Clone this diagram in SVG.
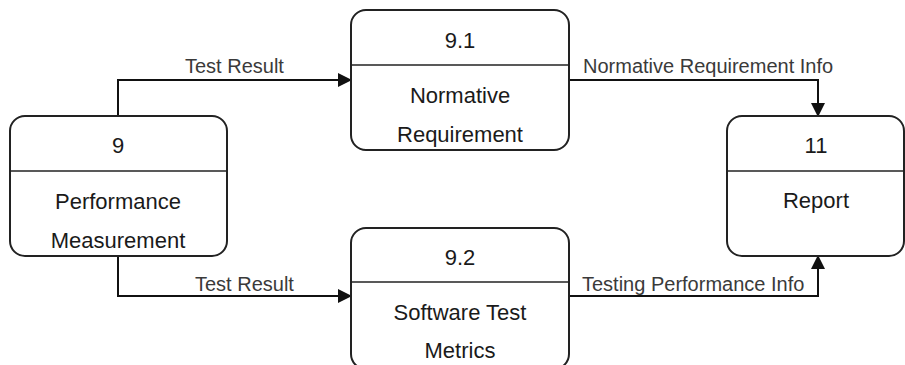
<svg xmlns="http://www.w3.org/2000/svg" width="905" height="365" viewBox="0 0 905 365">
<style>
.box{fill:#fff;stroke:#222;stroke-width:2}
.div{stroke:#222;stroke-width:1.5}
.nt{font-family:"Liberation Sans",Arial,sans-serif;font-size:22px;fill:#1a1a1a;text-anchor:middle}
.lt{font-family:"Liberation Sans",Arial,sans-serif;font-size:20px;fill:#3a3a3a}
.cn{fill:none;stroke:#111;stroke-width:2}
</style>
<defs>
<marker id="ah" markerWidth="14" markerHeight="14" refX="13" refY="7" orient="auto" markerUnits="userSpaceOnUse">
<path d="M0,0 L14,7 L0,14 Z" fill="#111"/>
</marker>
</defs>
<rect width="905" height="365" fill="#fff"/>
<g id="connectors">
<path class="cn" d="M118,116 V80 H351" marker-end="url(#ah)"/>
<path class="cn" d="M118,256 V296 H351" marker-end="url(#ah)"/>
<path class="cn" d="M569,80 H818 V116" marker-end="url(#ah)"/>
<path class="cn" d="M569,296 H818 V256" marker-end="url(#ah)"/>
<text class="lt" x="185" y="73">Test Result</text>
<text class="lt" x="195" y="291">Test Result</text>
<text class="lt" x="583" y="73">Normative Requirement Info</text>
<text class="lt" x="582" y="291">Testing Performance Info</text>
</g>
<g id="n9">
<rect class="box" x="10" y="116" width="217" height="140" rx="15"/>
<line class="div" x1="10" y1="171" x2="227" y2="171"/>
<text class="nt" x="118" y="153">9</text>
<text class="nt" x="118" y="209">Performance</text>
<text class="nt" x="118" y="248">Measurement</text>
</g>
<g id="n9_1">
<rect class="box" x="351" y="10" width="218" height="140" rx="15"/>
<line class="div" x1="351" y1="65" x2="569" y2="65"/>
<text class="nt" x="460" y="48">9.1</text>
<text class="nt" x="460" y="103">Normative</text>
<text class="nt" x="460" y="142">Requirement</text>
</g>
<g id="n9_2">
<rect class="box" x="351" y="228" width="218" height="141" rx="15"/>
<line class="div" x1="351" y1="282" x2="569" y2="282"/>
<text class="nt" x="460" y="265">9.2</text>
<text class="nt" x="460" y="320">Software Test</text>
<text class="nt" x="460" y="358">Metrics</text>
</g>
<g id="n11">
<rect class="box" x="727" y="116" width="177" height="140" rx="15"/>
<line class="div" x1="727" y1="171" x2="904" y2="171"/>
<text class="nt" x="816" y="153">11</text>
<text class="nt" x="816" y="208">Report</text>
</g>
</svg>
